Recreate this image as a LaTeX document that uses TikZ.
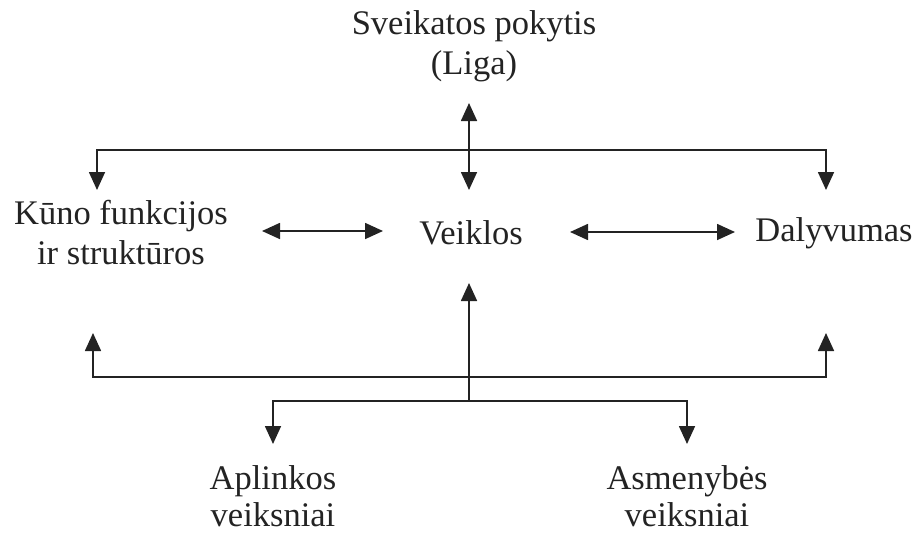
\documentclass[tikz,border=0pt]{standalone}
\usepackage{fontspec}
\setmainfont{Liberation Serif}
\usetikzlibrary{arrows.meta}
\definecolor{ink}{RGB}{35,35,35}
\begin{document}
\begin{tikzpicture}[x=1pt,y=-1pt,
  lbl/.style={font=\fontsize{34.5}{40}\selectfont, text=ink, align=center, inner sep=0pt},
  conn/.style={draw=ink, line width=1.7pt, {Triangle[width=16pt,length=18pt]}-{Triangle[width=16pt,length=18pt]}},
  oneway/.style={draw=ink, line width=1.7pt, -{Triangle[width=16pt,length=18pt]}}]
\useasboundingbox (0,0) rectangle (917,533);
% nodes
\node[lbl] (liga) at (474,46) {Sveikatos pokytis\\(Liga)};
\node[lbl] (kuno) at (121,233) {Kūno funkcijos\\ir struktūros};
\node[lbl] (veik) at (471,233) {Veiklos};
\node[lbl] (daly) at (834,233) {Dalyvumas};
\node[lbl, font=\fontsize{34.5}{37}\selectfont] (apl) at (273,496) {Aplinkos\\veiksniai};
\node[lbl, font=\fontsize{34.5}{37}\selectfont] (asm) at (687,496) {Asmenybės\\veiksniai};
% coordinates
\coordinate (ligaB) at (469,103);
\coordinate (veikT) at (469,190);
\coordinate (tl) at (97,150);
\coordinate (tr) at (826,150);
\coordinate (kunoT) at (97,190);
\coordinate (dalyT) at (826,190);
\coordinate (kunoR) at (262,231);
\coordinate (veikL) at (383,231);
\coordinate (veikR) at (570,232);
\coordinate (dalyL) at (735,232);
\coordinate (veikB) at (469,283);
\coordinate (hub) at (469,401);
\coordinate (bl) at (93,377);
\coordinate (br) at (826,377);
\coordinate (kunoB) at (93,333);
\coordinate (dalyB) at (826,333);
\coordinate (al) at (273,401);
\coordinate (ar) at (687,401);
\coordinate (aplT) at (273,444);
\coordinate (asmT) at (687,444);
% connectors
\draw[conn] (kunoT) -- (tl) -- (tr) -- (dalyT);
\draw[conn] (ligaB) -- (veikT);
\draw[conn] (kunoR) -- (veikL);
\draw[conn] (veikR) -- (dalyL);
\draw[conn] (kunoB) -- (bl) -- (br) -- (dalyB);
\draw[oneway] (hub) -- (veikB);
\draw[conn] (aplT) -- (al) -- (ar) -- (asmT);
\end{tikzpicture}
\end{document}
